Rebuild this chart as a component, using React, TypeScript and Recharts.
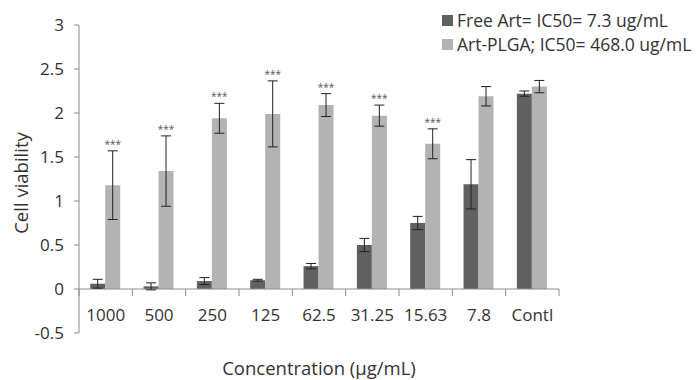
import React from 'react';
import { ComposedChart, Bar, XAxis, YAxis, ErrorBar, ReferenceLine, LabelList, Label } from 'recharts';

const categories = ['1000', '500', '250', '125', '62.5', '31.25', '15.63', '7.8', 'Contl'];
const freeArt = [0.06, 0.03, 0.09, 0.1, 0.26, 0.5, 0.75, 1.19, 2.22];
const freeArtErr = [0.05, 0.04, 0.04, 0.01, 0.03, 0.075, 0.075, 0.28, 0.03];
const artPlga = [1.18, 1.34, 1.94, 1.99, 2.09, 1.97, 1.65, 2.19, 2.3];
const artPlgaErr = [0.39, 0.4, 0.17, 0.375, 0.13, 0.12, 0.17, 0.11, 0.07];
const significance = ['***', '***', '***', '***', '***', '***', '***', '', ''];
const yTicks = [-0.5, 0, 0.5, 1, 1.5, 2, 2.5, 3];
const seriesNames = ['Free Art= IC50= 7.3 ug/mL', 'Art-PLGA; IC50= 468.0 ug/mL'];
const xTitle = 'Concentration (\u00b5g/mL)';
const yTitle = 'Cell viability';

const DARK = '#606060';
const LIGHT = '#b3b3b3';
const AXIS = '#8c8c8c';
const TEXT = '#333333';
const FONT = '"Open Sans", "Noto Sans", sans-serif';

const data = categories.map((c, i) => ({
  category: c,
  free: freeArt[i],
  freeErr: freeArtErr[i],
  plga: artPlga[i],
  plgaErr: artPlgaErr[i],
  sig: significance[i],
}));

const XTick = (props: any) => {
  const { x, y, payload } = props;
  return (
    <text x={x} y={y - 20} textAnchor="middle" fontSize={17} fill={TEXT} fontFamily={FONT}>
      {payload.value}
    </text>
  );
};

const ZeroAxis = (props: any) => {
  const { x1, x2, y1 } = props;
  if (x1 == null || x2 == null || y1 == null) return null;
  const n = categories.length;
  const step = (x2 - x1) / n;
  const ticks = [];
  for (let i = 0; i <= n; i++) {
    const tx = x1 + i * step;
    ticks.push(<line key={i} x1={tx} x2={tx} y1={y1} y2={y1 + 7} stroke={AXIS} strokeWidth={1} />);
  }
  return (
    <g>
      <line x1={x1} x2={x2} y1={y1} y2={y1} stroke={AXIS} strokeWidth={1} />
      {ticks}
    </g>
  );
};

const SigLabel = (props: any) => {
  const { x, y, width, height, index, value } = props;
  if (!value) return null;
  const v = artPlga[index];
  const e = artPlgaErr[index];
  const pxPerUnit = Number(height) / v;
  const top = Number(y) - e * pxPerUnit;
  return (
    <text x={Number(x) + Number(width) / 2} y={top - 3} textAnchor="middle" fontSize={10} fill="#555" fontFamily={FONT}>
      {value}
    </text>
  );
};

export default function App() {
  return (
    <div style={{ position: 'absolute', left: 0, top: 0, width: 697, height: 380, background: '#fff' }}>
      <ComposedChart
        width={697}
        height={380}
        data={data}
        margin={{ top: 25, right: 138, left: 19, bottom: 17 }}
        barCategoryGap="21%"
        barGap={0}
      >
        <XAxis dataKey="category" axisLine={false} tickLine={false} height={30} tick={<XTick />} interval={0}>
          <Label
            content={(p: any) => {
              const vb = p.viewBox || { x: 79, y: 333, width: 480 };
              return (
                <text x={vb.x + vb.width / 2} y={vb.y + 42} textAnchor="middle" fontSize={18.5} fill={TEXT} fontFamily={FONT}>
                  {xTitle}
                </text>
              );
            }}
          />
        </XAxis>
        <YAxis
          domain={[-0.5, 3]}
          ticks={yTicks}
          width={60}
          axisLine={{ stroke: AXIS }}
          tickLine={{ stroke: AXIS }}
          tickSize={5}
          tickMargin={10}
          tick={{ fontSize: 17, fill: TEXT, fontFamily: FONT }}
          interval={0}
        >
          <Label
            content={(p: any) => {
              const vb = p.viewBox || { x: 19, y: 25, width: 60, height: 308 };
              const cx = 28;
              const cy = vb.y + vb.height / 2 + 4;
              return (
                <text x={cx} y={cy} transform={`rotate(-90, ${cx}, ${cy})`} textAnchor="middle" fontSize={18.5} fill={TEXT} fontFamily={FONT}>
                  {yTitle}
                </text>
              );
            }}
          />
        </YAxis>
        <ReferenceLine y={0} shape={<ZeroAxis />} />
        <Bar dataKey="free" name={seriesNames[0]} fill={DARK} isAnimationActive={false}>
          <ErrorBar dataKey="freeErr" width={5} stroke="#222" strokeWidth={1} direction="y" />
        </Bar>
        <Bar dataKey="plga" name={seriesNames[1]} fill={LIGHT} isAnimationActive={false}>
          <ErrorBar dataKey="plgaErr" width={5} stroke="#222" strokeWidth={1} direction="y" />
          <LabelList dataKey="sig" content={<SigLabel />} />
        </Bar>
      </ComposedChart>
      <div style={{ position: 'absolute', left: 442, top: 8, fontFamily: FONT, fontSize: 17.5, color: TEXT, lineHeight: '24px' }}>
        {seriesNames.map((name, i) => (
          <div key={name} style={{ display: 'flex', alignItems: 'center', whiteSpace: 'nowrap' }}>
            <span style={{ display: 'inline-block', width: 11, height: 11, background: i === 0 ? DARK : LIGHT, marginRight: 4 }} />
            <span>{name}</span>
          </div>
        ))}
      </div>
    </div>
  );
}
